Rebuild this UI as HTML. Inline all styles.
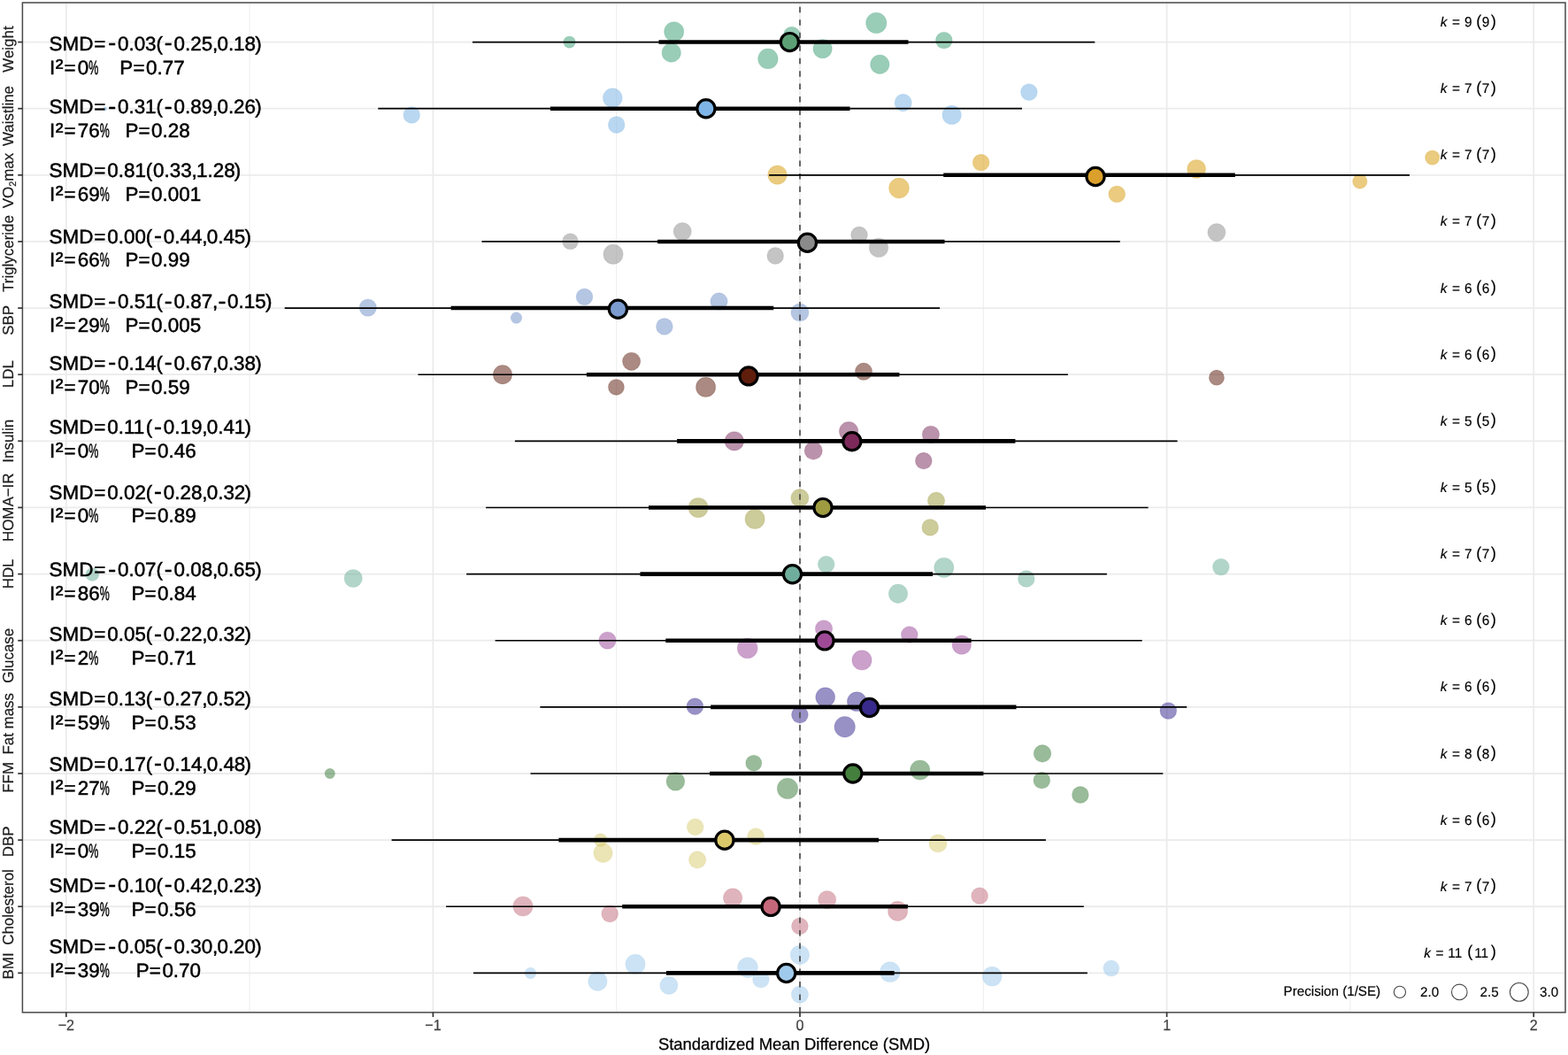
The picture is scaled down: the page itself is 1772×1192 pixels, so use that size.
<!DOCTYPE html>
<html lang="en"><head><meta charset="utf-8"><title>Orchard plot: Standardized Mean Difference (SMD)</title>
<style>
html,body{margin:0;padding:0;background:#fff;}
body{width:1772px;height:1192px;overflow:hidden;}
svg{display:block;}
text{font-family:"Liberation Sans",sans-serif;text-rendering:geometricPrecision;}
.ann{font-size:22.2px;fill:#000;stroke:#000;stroke-width:0.5;}
.ax{font-size:17.0px;fill:#3d3d3d;stroke:#3d3d3d;stroke-width:0.25;text-anchor:middle;}
.yl{font-size:17.2px;fill:#1a1a1a;stroke:#1a1a1a;stroke-width:0.2;text-anchor:middle;}
.k{font-size:15.6px;fill:#000;stroke:#000;stroke-width:0.15;}
.lg{font-size:15.4px;fill:#000;stroke:#000;stroke-width:0.15;}
.ttl{font-size:18.8px;fill:#000;stroke:#000;stroke-width:0.25;text-anchor:middle;}
</style></head><body>
<svg width="1772" height="1192" viewBox="0 0 1772 1192">
<rect x="0" y="0" width="1772" height="1192" fill="#ffffff"/>
<g id="grid" fill="none">
<line x1="282.1" y1="3.0" x2="282.1" y2="1143.9" stroke="#ebebeb" stroke-width="0.9"/>
<line x1="696.7" y1="3.0" x2="696.7" y2="1143.9" stroke="#ebebeb" stroke-width="0.9"/>
<line x1="1111.3" y1="3.0" x2="1111.3" y2="1143.9" stroke="#ebebeb" stroke-width="0.9"/>
<line x1="1525.9" y1="3.0" x2="1525.9" y2="1143.9" stroke="#ebebeb" stroke-width="0.9"/>
<line x1="74.8" y1="3.0" x2="74.8" y2="1143.9" stroke="#ebebeb" stroke-width="1.8"/>
<line x1="489.4" y1="3.0" x2="489.4" y2="1143.9" stroke="#ebebeb" stroke-width="1.8"/>
<line x1="904" y1="3.0" x2="904" y2="1143.9" stroke="#ebebeb" stroke-width="1.8"/>
<line x1="1318.6" y1="3.0" x2="1318.6" y2="1143.9" stroke="#ebebeb" stroke-width="1.8"/>
<line x1="1733.2" y1="3.0" x2="1733.2" y2="1143.9" stroke="#ebebeb" stroke-width="1.8"/>
<line x1="25.4" y1="47.55" x2="1769.0" y2="47.55" stroke="#ebebeb" stroke-width="1.8"/>
<line x1="25.4" y1="122.68" x2="1769.0" y2="122.68" stroke="#ebebeb" stroke-width="1.8"/>
<line x1="25.4" y1="197.81" x2="1769.0" y2="197.81" stroke="#ebebeb" stroke-width="1.8"/>
<line x1="25.4" y1="272.94" x2="1769.0" y2="272.94" stroke="#ebebeb" stroke-width="1.8"/>
<line x1="25.4" y1="348.07" x2="1769.0" y2="348.07" stroke="#ebebeb" stroke-width="1.8"/>
<line x1="25.4" y1="423.2" x2="1769.0" y2="423.2" stroke="#ebebeb" stroke-width="1.8"/>
<line x1="25.4" y1="498.33" x2="1769.0" y2="498.33" stroke="#ebebeb" stroke-width="1.8"/>
<line x1="25.4" y1="573.46" x2="1769.0" y2="573.46" stroke="#ebebeb" stroke-width="1.8"/>
<line x1="25.4" y1="648.59" x2="1769.0" y2="648.59" stroke="#ebebeb" stroke-width="1.8"/>
<line x1="25.4" y1="723.72" x2="1769.0" y2="723.72" stroke="#ebebeb" stroke-width="1.8"/>
<line x1="25.4" y1="798.85" x2="1769.0" y2="798.85" stroke="#ebebeb" stroke-width="1.8"/>
<line x1="25.4" y1="873.98" x2="1769.0" y2="873.98" stroke="#ebebeb" stroke-width="1.8"/>
<line x1="25.4" y1="949.11" x2="1769.0" y2="949.11" stroke="#ebebeb" stroke-width="1.8"/>
<line x1="25.4" y1="1024.24" x2="1769.0" y2="1024.24" stroke="#ebebeb" stroke-width="1.8"/>
<line x1="25.4" y1="1099.37" x2="1769.0" y2="1099.37" stroke="#ebebeb" stroke-width="1.8"/>
</g>
<g id="points" stroke="none">
<g fill="#359b6f" fill-opacity="0.5" stroke="#359b6f" stroke-opacity="0.14" stroke-width="1.2">
<circle cx="643.5" cy="47.6" r="6.7"/>
<circle cx="761.7" cy="35.8" r="11.1"/>
<circle cx="758.7" cy="59.5" r="10.7"/>
<circle cx="894.8" cy="39.6" r="9.4"/>
<circle cx="867.9" cy="66.4" r="11.3"/>
<circle cx="929.6" cy="55.1" r="10.7"/>
<circle cx="990.3" cy="25.9" r="11.7"/>
<circle cx="994.3" cy="72.7" r="10.7"/>
<circle cx="1066.8" cy="45.6" r="9.4"/>
</g>
<g fill="#73afe3" fill-opacity="0.5" stroke="#73afe3" stroke-opacity="0.14" stroke-width="1.2">
<circle cx="118.8" cy="122.8" r="2.1"/>
<circle cx="465.2" cy="129.9" r="9.4"/>
<circle cx="692.3" cy="110.6" r="10.9"/>
<circle cx="696.7" cy="141" r="9.4"/>
<circle cx="1020.7" cy="116" r="9.7"/>
<circle cx="1075.6" cy="129.9" r="10.7"/>
<circle cx="1162.9" cy="104.1" r="9.4"/>
</g>
<g fill="#d59700" fill-opacity="0.5" stroke="#d59700" stroke-opacity="0.14" stroke-width="1.2">
<circle cx="878.5" cy="197.6" r="10.7"/>
<circle cx="1016" cy="212.5" r="11.4"/>
<circle cx="1108.6" cy="183.7" r="9.4"/>
<circle cx="1352.1" cy="190.9" r="10.5"/>
<circle cx="1262.2" cy="219.4" r="9.4"/>
<circle cx="1536.8" cy="205" r="8.2"/>
<circle cx="1618.7" cy="178.1" r="8.2"/>
</g>
<g fill="#898989" fill-opacity="0.5" stroke="#898989" stroke-opacity="0.14" stroke-width="1.2">
<circle cx="644.5" cy="272.8" r="9"/>
<circle cx="771.2" cy="261.6" r="10.1"/>
<circle cx="693" cy="287.3" r="11.1"/>
<circle cx="876.2" cy="289" r="9.4"/>
<circle cx="971" cy="265.5" r="9.4"/>
<circle cx="993" cy="279.9" r="10.7"/>
<circle cx="1374.9" cy="262.6" r="10.1"/>
</g>
<g fill="#6b8dc7" fill-opacity="0.5" stroke="#6b8dc7" stroke-opacity="0.14" stroke-width="1.2">
<circle cx="415.8" cy="347.6" r="9.7"/>
<circle cx="583.5" cy="359.1" r="6.3"/>
<circle cx="660.5" cy="335.4" r="9.4"/>
<circle cx="812.5" cy="340.5" r="9.7"/>
<circle cx="750.9" cy="368.9" r="9.4"/>
<circle cx="903.9" cy="353" r="10.1"/>
</g>
<g fill="#551505" fill-opacity="0.5" stroke="#551505" stroke-opacity="0.14" stroke-width="1.2">
<circle cx="568" cy="423.2" r="10.7"/>
<circle cx="713.6" cy="408.3" r="10.1"/>
<circle cx="696.4" cy="437.4" r="9"/>
<circle cx="797.6" cy="437.4" r="11.1"/>
<circle cx="976" cy="419.8" r="9.7"/>
<circle cx="1374.9" cy="426.7" r="8.6"/>
</g>
<g fill="#752557" fill-opacity="0.5" stroke="#752557" stroke-opacity="0.14" stroke-width="1.2">
<circle cx="829.8" cy="498.4" r="10.7"/>
<circle cx="959.1" cy="487.2" r="10.7"/>
<circle cx="919.2" cy="509.2" r="10.1"/>
<circle cx="1051.9" cy="490.9" r="9.7"/>
<circle cx="1043.8" cy="520.7" r="9.4"/>
</g>
<g fill="#999735" fill-opacity="0.5" stroke="#999735" stroke-opacity="0.14" stroke-width="1.2">
<circle cx="789.1" cy="573.6" r="11.1"/>
<circle cx="903.9" cy="562.7" r="10.1"/>
<circle cx="853.1" cy="586.4" r="11.1"/>
<circle cx="1058" cy="565.8" r="9.7"/>
<circle cx="1051.2" cy="595.9" r="9.4"/>
</g>
<g fill="#65ab95" fill-opacity="0.5" stroke="#65ab95" stroke-opacity="0.14" stroke-width="1.2">
<circle cx="104.3" cy="649.1" r="7.4"/>
<circle cx="399.2" cy="653.5" r="10.1"/>
<circle cx="933.7" cy="637.6" r="9.4"/>
<circle cx="1066.8" cy="641.3" r="11.1"/>
<circle cx="1015" cy="670.7" r="10.7"/>
<circle cx="1159.8" cy="653.9" r="9.4"/>
<circle cx="1379.8" cy="640.6" r="9.4"/>
</g>
<g fill="#974397" fill-opacity="0.5" stroke="#974397" stroke-opacity="0.14" stroke-width="1.2">
<circle cx="686.5" cy="723.6" r="9.7"/>
<circle cx="931" cy="710.4" r="9.7"/>
<circle cx="844.7" cy="732.4" r="11.4"/>
<circle cx="1027.8" cy="717.1" r="9.4"/>
<circle cx="974" cy="745.9" r="11.1"/>
<circle cx="1086.8" cy="728.6" r="10.7"/>
</g>
<g fill="#31238b" fill-opacity="0.5" stroke="#31238b" stroke-opacity="0.14" stroke-width="1.2">
<circle cx="785.4" cy="798.2" r="9.4"/>
<circle cx="932.7" cy="787.7" r="10.9"/>
<circle cx="968.3" cy="792.7" r="10.9"/>
<circle cx="903.9" cy="807.6" r="9.4"/>
<circle cx="954.7" cy="821.2" r="11.7"/>
<circle cx="1320.3" cy="803.1" r="9.4"/>
</g>
<g fill="#337733" fill-opacity="0.5" stroke="#337733" stroke-opacity="0.14" stroke-width="1.2">
<circle cx="372.8" cy="874" r="5.7"/>
<circle cx="851.8" cy="862.2" r="9"/>
<circle cx="763.4" cy="882.8" r="10.4"/>
<circle cx="890" cy="890.9" r="11.7"/>
<circle cx="1039.7" cy="870" r="11.1"/>
<circle cx="1178" cy="851.4" r="9.8"/>
<circle cx="1177.3" cy="881.7" r="9.4"/>
<circle cx="1220.9" cy="898" r="9.4"/>
</g>
<g fill="#d7c96b" fill-opacity="0.5" stroke="#d7c96b" stroke-opacity="0.14" stroke-width="1.2">
<circle cx="678.7" cy="949.2" r="7.4"/>
<circle cx="681.5" cy="963.7" r="10.7"/>
<circle cx="785.7" cy="934.3" r="9.4"/>
<circle cx="854.1" cy="945.1" r="9.4"/>
<circle cx="788.1" cy="971.5" r="9.7"/>
<circle cx="1060" cy="952.9" r="10.1"/>
</g>
<g fill="#c16979" fill-opacity="0.5" stroke="#c16979" stroke-opacity="0.14" stroke-width="1.2">
<circle cx="591" cy="1024" r="11.1"/>
<circle cx="689.2" cy="1032.5" r="9.4"/>
<circle cx="828.1" cy="1014.5" r="10.7"/>
<circle cx="934.7" cy="1016.6" r="10.1"/>
<circle cx="1014.6" cy="1029.4" r="11.1"/>
<circle cx="903.9" cy="1046.4" r="9.4"/>
<circle cx="1107.1" cy="1012.2" r="9.4"/>
</g>
<g fill="#99c7eb" fill-opacity="0.5" stroke="#99c7eb" stroke-opacity="0.14" stroke-width="1.2">
<circle cx="599.5" cy="1099.5" r="6.3"/>
<circle cx="718" cy="1089.4" r="11.1"/>
<circle cx="675.4" cy="1108.7" r="10.7"/>
<circle cx="755.9" cy="1113.4" r="10.1"/>
<circle cx="845" cy="1093.1" r="11.4"/>
<circle cx="859.9" cy="1106.6" r="9.4"/>
<circle cx="903.9" cy="1078.9" r="10.7"/>
<circle cx="903.9" cy="1123.6" r="9.7"/>
<circle cx="1005.8" cy="1098.2" r="11.4"/>
<circle cx="1121.2" cy="1103.2" r="10.9"/>
<circle cx="1255.8" cy="1094.1" r="9"/>
</g>
</g>
<line x1="904" y1="1144.4" x2="904" y2="3.0" stroke="#4f4f4f" stroke-opacity="0.95" stroke-width="1.8" stroke-dasharray="6.5 7.99"/>
<g id="ranges" stroke="#000" fill="none">
<line x1="744.5" y1="47.55" x2="1026.5" y2="47.55" stroke-width="4.6"/>
<line x1="533.9" y1="47.55" x2="1237.3" y2="47.55" stroke-width="1.65"/>
<line x1="621.9" y1="122.68" x2="960.5" y2="122.68" stroke-width="4.6"/>
<line x1="427.3" y1="122.68" x2="1155" y2="122.68" stroke-width="1.65"/>
<line x1="1066.2" y1="197.81" x2="1395.8" y2="197.81" stroke-width="4.6"/>
<line x1="869.1" y1="197.81" x2="1593" y2="197.81" stroke-width="1.65"/>
<line x1="743.1" y1="272.94" x2="1067.5" y2="272.94" stroke-width="4.6"/>
<line x1="544.5" y1="272.94" x2="1265.7" y2="272.94" stroke-width="1.65"/>
<line x1="509.6" y1="348.07" x2="874.2" y2="348.07" stroke-width="4.6"/>
<line x1="321.7" y1="348.07" x2="1062.1" y2="348.07" stroke-width="1.65"/>
<line x1="662.9" y1="423.2" x2="1016.4" y2="423.2" stroke-width="4.6"/>
<line x1="472.4" y1="423.2" x2="1206.9" y2="423.2" stroke-width="1.65"/>
<line x1="765.1" y1="498.33" x2="1147.4" y2="498.33" stroke-width="4.6"/>
<line x1="581.9" y1="498.33" x2="1330.6" y2="498.33" stroke-width="1.65"/>
<line x1="733" y1="573.46" x2="1114" y2="573.46" stroke-width="4.6"/>
<line x1="549.1" y1="573.46" x2="1297.6" y2="573.46" stroke-width="1.65"/>
<line x1="723.5" y1="648.59" x2="1054" y2="648.59" stroke-width="4.6"/>
<line x1="527.1" y1="648.59" x2="1250.9" y2="648.59" stroke-width="1.65"/>
<line x1="752.3" y1="723.72" x2="1097.6" y2="723.72" stroke-width="4.6"/>
<line x1="559.6" y1="723.72" x2="1290.7" y2="723.72" stroke-width="1.65"/>
<line x1="803.1" y1="798.85" x2="1148.5" y2="798.85" stroke-width="4.6"/>
<line x1="610.4" y1="798.85" x2="1341.2" y2="798.85" stroke-width="1.65"/>
<line x1="802" y1="873.98" x2="1111.4" y2="873.98" stroke-width="4.6"/>
<line x1="599.5" y1="873.98" x2="1314.3" y2="873.98" stroke-width="1.65"/>
<line x1="631.4" y1="949.11" x2="993" y2="949.11" stroke-width="4.6"/>
<line x1="442.6" y1="949.11" x2="1181.9" y2="949.11" stroke-width="1.65"/>
<line x1="703.2" y1="1024.24" x2="1025.9" y2="1024.24" stroke-width="4.6"/>
<line x1="504.1" y1="1024.24" x2="1224.8" y2="1024.24" stroke-width="1.65"/>
<line x1="752.9" y1="1099.37" x2="1010.6" y2="1099.37" stroke-width="4.6"/>
<line x1="534.9" y1="1099.37" x2="1228.9" y2="1099.37" stroke-width="1.65"/>
</g>
<g id="means" stroke="#000" stroke-width="3.2">
<circle cx="892.4" cy="47.6" r="10.1" fill="#5DA076"/>
<circle cx="797.9" cy="122.8" r="10.1" fill="#7FB5E6"/>
<circle cx="1238" cy="199.5" r="10.1" fill="#DBA02B"/>
<circle cx="912.4" cy="274.3" r="10.1" fill="#8A8A8A"/>
<circle cx="698.4" cy="349.3" r="10.1" fill="#7B9BCF"/>
<circle cx="846" cy="424.9" r="10.1" fill="#5F1D0C"/>
<circle cx="962.8" cy="498.7" r="10.1" fill="#7D2A5A"/>
<circle cx="930" cy="573.6" r="10.1" fill="#9E9B41"/>
<circle cx="895.5" cy="648.7" r="10.1" fill="#6FAE9C"/>
<circle cx="932" cy="723.9" r="10.1" fill="#9F4A97"/>
<circle cx="982.5" cy="799.5" r="10.1" fill="#372A8B"/>
<circle cx="963.8" cy="874" r="10.1" fill="#447F3E"/>
<circle cx="818.9" cy="949.2" r="10.1" fill="#DCC96B"/>
<circle cx="871.1" cy="1024.4" r="10.1" fill="#C5687A"/>
<circle cx="888.7" cy="1099.5" r="10.1" fill="#A0CAEB"/>
</g>
<rect x="25.4" y="3.0" width="1743.6" height="1140.9" fill="none" stroke="#484848" stroke-width="1.5"/>
<g id="ticks" stroke="#333333" stroke-width="1.7">
<line x1="74.8" y1="1143.9" x2="74.8" y2="1149.1"/>
<line x1="489.4" y1="1143.9" x2="489.4" y2="1149.1"/>
<line x1="904" y1="1143.9" x2="904" y2="1149.1"/>
<line x1="1318.6" y1="1143.9" x2="1318.6" y2="1149.1"/>
<line x1="1733.2" y1="1143.9" x2="1733.2" y2="1149.1"/>
<line x1="20.2" y1="47.55" x2="25.4" y2="47.55"/>
<line x1="20.2" y1="122.68" x2="25.4" y2="122.68"/>
<line x1="20.2" y1="197.81" x2="25.4" y2="197.81"/>
<line x1="20.2" y1="272.94" x2="25.4" y2="272.94"/>
<line x1="20.2" y1="348.07" x2="25.4" y2="348.07"/>
<line x1="20.2" y1="423.2" x2="25.4" y2="423.2"/>
<line x1="20.2" y1="498.33" x2="25.4" y2="498.33"/>
<line x1="20.2" y1="573.46" x2="25.4" y2="573.46"/>
<line x1="20.2" y1="648.59" x2="25.4" y2="648.59"/>
<line x1="20.2" y1="723.72" x2="25.4" y2="723.72"/>
<line x1="20.2" y1="798.85" x2="25.4" y2="798.85"/>
<line x1="20.2" y1="873.98" x2="25.4" y2="873.98"/>
<line x1="20.2" y1="949.11" x2="25.4" y2="949.11"/>
<line x1="20.2" y1="1024.24" x2="25.4" y2="1024.24"/>
<line x1="20.2" y1="1099.37" x2="25.4" y2="1099.37"/>
</g>
<g id="xaxis" class="ax">
<text transform="translate(74.8 1163.8) scale(0.945 1)">−2</text>
<text transform="translate(489.4 1163.8) scale(0.945 1)">−1</text>
<text transform="translate(904 1163.8) scale(0.945 1)">0</text>
<text transform="translate(1318.6 1163.8) scale(0.945 1)">1</text>
<text transform="translate(1733.2 1163.8) scale(0.945 1)">2</text>
</g>
<text class="ttl" transform="translate(897.5 1185.5) scale(0.982 1)">Standardized Mean Difference (SMD)</text>
<g id="yaxis">
<text class="yl" transform="translate(14.6 55.6) rotate(-90) scale(0.985 1)">Weight</text>
<text class="yl" transform="translate(14.6 131) rotate(-90) scale(0.985 1)">Waistline</text>
<text class="yl" transform="translate(14.6 204) rotate(-90) scale(0.985 1)">VO<tspan font-size="11" dy="3.4">2</tspan><tspan dy="-3.4">max</tspan></text>
<text class="yl" transform="translate(14.6 286.5) rotate(-90) scale(0.985 1)">Triglyceride</text>
<text class="yl" transform="translate(14.6 361.9) rotate(-90) scale(0.985 1)">SBP</text>
<text class="yl" transform="translate(14.6 422.7) rotate(-90) scale(0.985 1)">LDL</text>
<text class="yl" transform="translate(14.6 498.2) rotate(-90) scale(0.985 1)">Insulin</text>
<text class="yl" transform="translate(14.6 573.3) rotate(-90) scale(0.985 1)">HOMA−IR</text>
<text class="yl" transform="translate(14.6 648.4) rotate(-90) scale(0.985 1)">HDL</text>
<text class="yl" transform="translate(14.6 740.8) rotate(-90) scale(0.985 1)">Glucase</text>
<text class="yl" transform="translate(14.6 817.8) rotate(-90) scale(0.985 1)">Fat mass</text>
<text class="yl" transform="translate(14.6 878.4) rotate(-90) scale(0.985 1)">FFM</text>
<text class="yl" transform="translate(14.6 950.9) rotate(-90) scale(0.985 1)">DBP</text>
<text class="yl" transform="translate(14.6 1025) rotate(-90) scale(0.985 1)">Cholesterol</text>
<text class="yl" transform="translate(14.6 1091.4) rotate(-90) scale(0.985 1)">BMI</text>
</g>
<g id="annotations">
<text class="ann" transform="scale(1.01 1)"><tspan x="55.05" y="56.9">SMD</tspan><tspan x="105.25" y="56.9">=</tspan><tspan x="121.03" y="57.45" font-size="26.5">-</tspan><tspan x="131.63" y="56.9">0.03</tspan><tspan x="174.74" y="56.9">(</tspan><tspan x="183.94" y="57.45" font-size="26.5">-</tspan><tspan x="194.54" y="56.9">0.25</tspan><tspan x="237.54" y="56.9">,</tspan><tspan x="242.99" y="56.9">0.18</tspan><tspan x="285.4" y="56.9">)</tspan></text>
<text class="ann" transform="scale(1.01 1)"><tspan x="55.45" y="83.8">I</tspan><tspan x="62.08" y="85.4" font-size="26">²</tspan><tspan x="71.78" y="83.8">=</tspan><tspan x="86.83" y="83.8">0</tspan></text><text class="ann" transform="translate(100.37 83.8) scale(0.56 1.0)">%</text><text class="ann" transform="scale(1.01 1)"><tspan x="133.96" y="83.8">P</tspan><tspan x="148.96" y="83.8">=</tspan><tspan x="163.37" y="83.8">0.77</tspan></text>
<text class="ann" transform="scale(1.01 1)"><tspan x="55.05" y="128.3">SMD</tspan><tspan x="105.25" y="128.3">=</tspan><tspan x="121.03" y="128.85" font-size="26.5">-</tspan><tspan x="131.63" y="128.3">0.31</tspan><tspan x="174.74" y="128.3">(</tspan><tspan x="183.94" y="128.85" font-size="26.5">-</tspan><tspan x="194.54" y="128.3">0.89</tspan><tspan x="237.54" y="128.3">,</tspan><tspan x="242.99" y="128.3">0.26</tspan><tspan x="285.4" y="128.3">)</tspan></text>
<text class="ann" transform="scale(1.01 1)"><tspan x="55.45" y="155.4">I</tspan><tspan x="62.08" y="157" font-size="26">²</tspan><tspan x="71.78" y="155.4">=</tspan><tspan x="86.83" y="155.4">76</tspan></text><text class="ann" transform="translate(112.83 155.4) scale(0.56 1.0)">%</text><text class="ann" transform="scale(1.01 1)"><tspan x="140" y="155.4">P</tspan><tspan x="155" y="155.4">=</tspan><tspan x="169.41" y="155.4">0.28</tspan></text>
<text class="ann" transform="scale(1.01 1)"><tspan x="55.05" y="199.8">SMD</tspan><tspan x="105.25" y="199.8">=</tspan><tspan x="120.05" y="199.8">0.81</tspan><tspan x="163.15" y="199.8">(</tspan><tspan x="171.37" y="199.8">0.33</tspan><tspan x="214.37" y="199.8">,</tspan><tspan x="219.82" y="199.8">1.28</tspan><tspan x="262.23" y="199.8">)</tspan></text>
<text class="ann" transform="scale(1.01 1)"><tspan x="55.45" y="226.5">I</tspan><tspan x="62.08" y="228.1" font-size="26">²</tspan><tspan x="71.78" y="226.5">=</tspan><tspan x="86.83" y="226.5">69</tspan></text><text class="ann" transform="translate(112.83 226.5) scale(0.56 1.0)">%</text><text class="ann" transform="scale(1.01 1)"><tspan x="140" y="226.5">P</tspan><tspan x="155" y="226.5">=</tspan><tspan x="169.41" y="226.5">0.001</tspan></text>
<text class="ann" transform="scale(1.01 1)"><tspan x="55.05" y="274.6">SMD</tspan><tspan x="105.25" y="274.6">=</tspan><tspan x="120.05" y="274.6">0.00</tspan><tspan x="163.15" y="274.6">(</tspan><tspan x="172.35" y="275.15" font-size="26.5">-</tspan><tspan x="182.95" y="274.6">0.44</tspan><tspan x="225.96" y="274.6">,</tspan><tspan x="231.4" y="274.6">0.45</tspan><tspan x="273.81" y="274.6">)</tspan></text>
<text class="ann" transform="scale(1.01 1)"><tspan x="55.45" y="301">I</tspan><tspan x="62.08" y="302.6" font-size="26">²</tspan><tspan x="71.78" y="301">=</tspan><tspan x="86.83" y="301">66</tspan></text><text class="ann" transform="translate(112.83 301) scale(0.56 1.0)">%</text><text class="ann" transform="scale(1.01 1)"><tspan x="140" y="301">P</tspan><tspan x="155" y="301">=</tspan><tspan x="169.41" y="301">0.99</tspan></text>
<text class="ann" transform="scale(1.01 1)"><tspan x="55.05" y="348.1">SMD</tspan><tspan x="105.25" y="348.1">=</tspan><tspan x="121.03" y="348.65" font-size="26.5">-</tspan><tspan x="131.63" y="348.1">0.51</tspan><tspan x="174.74" y="348.1">(</tspan><tspan x="183.94" y="348.65" font-size="26.5">-</tspan><tspan x="194.54" y="348.1">0.87</tspan><tspan x="237.54" y="348.1">,</tspan><tspan x="243.97" y="348.65" font-size="26.5">-</tspan><tspan x="254.57" y="348.1">0.15</tspan><tspan x="296.98" y="348.1">)</tspan></text>
<text class="ann" transform="scale(1.01 1)"><tspan x="55.45" y="374.8">I</tspan><tspan x="62.08" y="376.4" font-size="26">²</tspan><tspan x="71.78" y="374.8">=</tspan><tspan x="86.83" y="374.8">29</tspan></text><text class="ann" transform="translate(112.83 374.8) scale(0.56 1.0)">%</text><text class="ann" transform="scale(1.01 1)"><tspan x="140" y="374.8">P</tspan><tspan x="155" y="374.8">=</tspan><tspan x="169.41" y="374.8">0.005</tspan></text>
<text class="ann" transform="scale(1.01 1)"><tspan x="55.05" y="417.6">SMD</tspan><tspan x="105.25" y="417.6">=</tspan><tspan x="121.03" y="418.15" font-size="26.5">-</tspan><tspan x="131.63" y="417.6">0.14</tspan><tspan x="174.74" y="417.6">(</tspan><tspan x="183.94" y="418.15" font-size="26.5">-</tspan><tspan x="194.54" y="417.6">0.67</tspan><tspan x="237.54" y="417.6">,</tspan><tspan x="242.99" y="417.6">0.38</tspan><tspan x="285.4" y="417.6">)</tspan></text>
<text class="ann" transform="scale(1.01 1)"><tspan x="55.45" y="444.7">I</tspan><tspan x="62.08" y="446.3" font-size="26">²</tspan><tspan x="71.78" y="444.7">=</tspan><tspan x="86.83" y="444.7">70</tspan></text><text class="ann" transform="translate(112.83 444.7) scale(0.56 1.0)">%</text><text class="ann" transform="scale(1.01 1)"><tspan x="140" y="444.7">P</tspan><tspan x="155" y="444.7">=</tspan><tspan x="169.41" y="444.7">0.59</tspan></text>
<text class="ann" transform="scale(1.01 1)"><tspan x="55.05" y="490.1">SMD</tspan><tspan x="105.25" y="490.1">=</tspan><tspan x="120.05" y="490.1">0.11</tspan><tspan x="163.15" y="490.1">(</tspan><tspan x="172.35" y="490.65" font-size="26.5">-</tspan><tspan x="182.95" y="490.1">0.19</tspan><tspan x="225.96" y="490.1">,</tspan><tspan x="231.4" y="490.1">0.41</tspan><tspan x="273.81" y="490.1">)</tspan></text>
<text class="ann" transform="scale(1.01 1)"><tspan x="55.45" y="516.8">I</tspan><tspan x="62.08" y="518.4" font-size="26">²</tspan><tspan x="71.78" y="516.8">=</tspan><tspan x="86.83" y="516.8">0</tspan></text><text class="ann" transform="translate(100.37 516.8) scale(0.56 1.0)">%</text><text class="ann" transform="scale(1.01 1)"><tspan x="146.93" y="516.8">P</tspan><tspan x="161.93" y="516.8">=</tspan><tspan x="176.34" y="516.8">0.46</tspan></text>
<text class="ann" transform="scale(1.01 1)"><tspan x="55.05" y="563.5">SMD</tspan><tspan x="105.25" y="563.5">=</tspan><tspan x="120.05" y="563.5">0.02</tspan><tspan x="163.15" y="563.5">(</tspan><tspan x="172.35" y="564.05" font-size="26.5">-</tspan><tspan x="182.95" y="563.5">0.28</tspan><tspan x="225.96" y="563.5">,</tspan><tspan x="231.4" y="563.5">0.32</tspan><tspan x="273.81" y="563.5">)</tspan></text>
<text class="ann" transform="scale(1.01 1)"><tspan x="55.45" y="590">I</tspan><tspan x="62.08" y="591.6" font-size="26">²</tspan><tspan x="71.78" y="590">=</tspan><tspan x="86.83" y="590">0</tspan></text><text class="ann" transform="translate(100.37 590) scale(0.56 1.0)">%</text><text class="ann" transform="scale(1.01 1)"><tspan x="146.93" y="590">P</tspan><tspan x="161.93" y="590">=</tspan><tspan x="176.34" y="590">0.89</tspan></text>
<text class="ann" transform="scale(1.01 1)"><tspan x="55.05" y="651.2">SMD</tspan><tspan x="105.25" y="651.2">=</tspan><tspan x="121.03" y="651.75" font-size="26.5">-</tspan><tspan x="131.63" y="651.2">0.07</tspan><tspan x="174.74" y="651.2">(</tspan><tspan x="183.94" y="651.75" font-size="26.5">-</tspan><tspan x="194.54" y="651.2">0.08</tspan><tspan x="237.54" y="651.2">,</tspan><tspan x="242.99" y="651.2">0.65</tspan><tspan x="285.4" y="651.2">)</tspan></text>
<text class="ann" transform="scale(1.01 1)"><tspan x="55.45" y="678">I</tspan><tspan x="62.08" y="679.6" font-size="26">²</tspan><tspan x="71.78" y="678">=</tspan><tspan x="86.83" y="678">86</tspan></text><text class="ann" transform="translate(112.83 678) scale(0.56 1.0)">%</text><text class="ann" transform="scale(1.01 1)"><tspan x="146.93" y="678">P</tspan><tspan x="161.93" y="678">=</tspan><tspan x="176.34" y="678">0.84</tspan></text>
<text class="ann" transform="scale(1.01 1)"><tspan x="55.05" y="724">SMD</tspan><tspan x="105.25" y="724">=</tspan><tspan x="120.05" y="724">0.05</tspan><tspan x="163.15" y="724">(</tspan><tspan x="172.35" y="724.55" font-size="26.5">-</tspan><tspan x="182.95" y="724">0.22</tspan><tspan x="225.96" y="724">,</tspan><tspan x="231.4" y="724">0.32</tspan><tspan x="273.81" y="724">)</tspan></text>
<text class="ann" transform="scale(1.01 1)"><tspan x="55.45" y="750.5">I</tspan><tspan x="62.08" y="752.1" font-size="26">²</tspan><tspan x="71.78" y="750.5">=</tspan><tspan x="86.83" y="750.5">2</tspan></text><text class="ann" transform="translate(100.37 750.5) scale(0.56 1.0)">%</text><text class="ann" transform="scale(1.01 1)"><tspan x="146.93" y="750.5">P</tspan><tspan x="161.93" y="750.5">=</tspan><tspan x="176.34" y="750.5">0.71</tspan></text>
<text class="ann" transform="scale(1.01 1)"><tspan x="55.05" y="796.9">SMD</tspan><tspan x="105.25" y="796.9">=</tspan><tspan x="120.05" y="796.9">0.13</tspan><tspan x="163.15" y="796.9">(</tspan><tspan x="172.35" y="797.45" font-size="26.5">-</tspan><tspan x="182.95" y="796.9">0.27</tspan><tspan x="225.96" y="796.9">,</tspan><tspan x="231.4" y="796.9">0.52</tspan><tspan x="273.81" y="796.9">)</tspan></text>
<text class="ann" transform="scale(1.01 1)"><tspan x="55.45" y="824.4">I</tspan><tspan x="62.08" y="826" font-size="26">²</tspan><tspan x="71.78" y="824.4">=</tspan><tspan x="86.83" y="824.4">59</tspan></text><text class="ann" transform="translate(112.83 824.4) scale(0.56 1.0)">%</text><text class="ann" transform="scale(1.01 1)"><tspan x="146.93" y="824.4">P</tspan><tspan x="161.93" y="824.4">=</tspan><tspan x="176.34" y="824.4">0.53</tspan></text>
<text class="ann" transform="scale(1.01 1)"><tspan x="55.05" y="870.8">SMD</tspan><tspan x="105.25" y="870.8">=</tspan><tspan x="120.05" y="870.8">0.17</tspan><tspan x="163.15" y="870.8">(</tspan><tspan x="172.35" y="871.35" font-size="26.5">-</tspan><tspan x="182.95" y="870.8">0.14</tspan><tspan x="225.96" y="870.8">,</tspan><tspan x="231.4" y="870.8">0.48</tspan><tspan x="273.81" y="870.8">)</tspan></text>
<text class="ann" transform="scale(1.01 1)"><tspan x="55.45" y="897.5">I</tspan><tspan x="62.08" y="899.1" font-size="26">²</tspan><tspan x="71.78" y="897.5">=</tspan><tspan x="86.83" y="897.5">27</tspan></text><text class="ann" transform="translate(112.83 897.5) scale(0.56 1.0)">%</text><text class="ann" transform="scale(1.01 1)"><tspan x="146.93" y="897.5">P</tspan><tspan x="161.93" y="897.5">=</tspan><tspan x="176.34" y="897.5">0.29</tspan></text>
<text class="ann" transform="scale(1.01 1)"><tspan x="55.05" y="942.2">SMD</tspan><tspan x="105.25" y="942.2">=</tspan><tspan x="121.03" y="942.75" font-size="26.5">-</tspan><tspan x="131.63" y="942.2">0.22</tspan><tspan x="174.74" y="942.2">(</tspan><tspan x="183.94" y="942.75" font-size="26.5">-</tspan><tspan x="194.54" y="942.2">0.51</tspan><tspan x="237.54" y="942.2">,</tspan><tspan x="242.99" y="942.2">0.08</tspan><tspan x="285.4" y="942.2">)</tspan></text>
<text class="ann" transform="scale(1.01 1)"><tspan x="55.45" y="969">I</tspan><tspan x="62.08" y="970.6" font-size="26">²</tspan><tspan x="71.78" y="969">=</tspan><tspan x="86.83" y="969">0</tspan></text><text class="ann" transform="translate(100.37 969) scale(0.56 1.0)">%</text><text class="ann" transform="scale(1.01 1)"><tspan x="146.93" y="969">P</tspan><tspan x="161.93" y="969">=</tspan><tspan x="176.34" y="969">0.15</tspan></text>
<text class="ann" transform="scale(1.01 1)"><tspan x="55.05" y="1007.9">SMD</tspan><tspan x="105.25" y="1007.9">=</tspan><tspan x="121.03" y="1008.45" font-size="26.5">-</tspan><tspan x="131.63" y="1007.9">0.10</tspan><tspan x="174.74" y="1007.9">(</tspan><tspan x="183.94" y="1008.45" font-size="26.5">-</tspan><tspan x="194.54" y="1007.9">0.42</tspan><tspan x="237.54" y="1007.9">,</tspan><tspan x="242.99" y="1007.9">0.23</tspan><tspan x="285.4" y="1007.9">)</tspan></text>
<text class="ann" transform="scale(1.01 1)"><tspan x="55.45" y="1035">I</tspan><tspan x="62.08" y="1036.6" font-size="26">²</tspan><tspan x="71.78" y="1035">=</tspan><tspan x="86.83" y="1035">39</tspan></text><text class="ann" transform="translate(112.83 1035) scale(0.56 1.0)">%</text><text class="ann" transform="scale(1.01 1)"><tspan x="146.93" y="1035">P</tspan><tspan x="161.93" y="1035">=</tspan><tspan x="176.34" y="1035">0.56</tspan></text>
<text class="ann" transform="scale(1.01 1)"><tspan x="55.05" y="1077.3">SMD</tspan><tspan x="105.25" y="1077.3">=</tspan><tspan x="121.03" y="1077.85" font-size="26.5">-</tspan><tspan x="131.63" y="1077.3">0.05</tspan><tspan x="174.74" y="1077.3">(</tspan><tspan x="183.94" y="1077.85" font-size="26.5">-</tspan><tspan x="194.54" y="1077.3">0.30</tspan><tspan x="237.54" y="1077.3">,</tspan><tspan x="242.99" y="1077.3">0.20</tspan><tspan x="285.4" y="1077.3">)</tspan></text>
<text class="ann" transform="scale(1.01 1)"><tspan x="55.45" y="1104.1">I</tspan><tspan x="62.08" y="1105.7" font-size="26">²</tspan><tspan x="71.78" y="1104.1">=</tspan><tspan x="86.83" y="1104.1">39</tspan></text><text class="ann" transform="translate(112.83 1104.1) scale(0.56 1.0)">%</text><text class="ann" transform="scale(1.01 1)"><tspan x="152.18" y="1104.1">P</tspan><tspan x="167.18" y="1104.1">=</tspan><tspan x="181.58" y="1104.1">0.70</tspan></text>
</g>
<g id="klabels">
<text class="k" transform="scale(0.985 1)"><tspan x="1652.55" y="30.1" font-style="italic">k</tspan><tspan x="1666.05" y="30.1">=</tspan><tspan x="1680.11" y="30.1">9</tspan><tspan x="1693.76" y="29.5" font-size="18.6">(</tspan><tspan x="1700.26" y="30.1">9</tspan><tspan x="1710.36" y="29.5" font-size="18.6">)</tspan></text>
<text class="k" transform="scale(0.985 1)"><tspan x="1652.55" y="105.23" font-style="italic">k</tspan><tspan x="1666.05" y="105.23">=</tspan><tspan x="1680.11" y="105.23">7</tspan><tspan x="1693.76" y="104.63" font-size="18.6">(</tspan><tspan x="1700.26" y="105.23">7</tspan><tspan x="1710.36" y="104.63" font-size="18.6">)</tspan></text>
<text class="k" transform="scale(0.985 1)"><tspan x="1652.55" y="180.36" font-style="italic">k</tspan><tspan x="1666.05" y="180.36">=</tspan><tspan x="1680.11" y="180.36">7</tspan><tspan x="1693.76" y="179.76" font-size="18.6">(</tspan><tspan x="1700.26" y="180.36">7</tspan><tspan x="1710.36" y="179.76" font-size="18.6">)</tspan></text>
<text class="k" transform="scale(0.985 1)"><tspan x="1652.55" y="255.49" font-style="italic">k</tspan><tspan x="1666.05" y="255.49">=</tspan><tspan x="1680.11" y="255.49">7</tspan><tspan x="1693.76" y="254.89" font-size="18.6">(</tspan><tspan x="1700.26" y="255.49">7</tspan><tspan x="1710.36" y="254.89" font-size="18.6">)</tspan></text>
<text class="k" transform="scale(0.985 1)"><tspan x="1652.55" y="330.62" font-style="italic">k</tspan><tspan x="1666.05" y="330.62">=</tspan><tspan x="1680.11" y="330.62">6</tspan><tspan x="1693.76" y="330.02" font-size="18.6">(</tspan><tspan x="1700.26" y="330.62">6</tspan><tspan x="1710.36" y="330.02" font-size="18.6">)</tspan></text>
<text class="k" transform="scale(0.985 1)"><tspan x="1652.55" y="405.75" font-style="italic">k</tspan><tspan x="1666.05" y="405.75">=</tspan><tspan x="1680.11" y="405.75">6</tspan><tspan x="1693.76" y="405.15" font-size="18.6">(</tspan><tspan x="1700.26" y="405.75">6</tspan><tspan x="1710.36" y="405.15" font-size="18.6">)</tspan></text>
<text class="k" transform="scale(0.985 1)"><tspan x="1652.55" y="480.88" font-style="italic">k</tspan><tspan x="1666.05" y="480.88">=</tspan><tspan x="1680.11" y="480.88">5</tspan><tspan x="1693.76" y="480.28" font-size="18.6">(</tspan><tspan x="1700.26" y="480.88">5</tspan><tspan x="1710.36" y="480.28" font-size="18.6">)</tspan></text>
<text class="k" transform="scale(0.985 1)"><tspan x="1652.55" y="556.01" font-style="italic">k</tspan><tspan x="1666.05" y="556.01">=</tspan><tspan x="1680.11" y="556.01">5</tspan><tspan x="1693.76" y="555.41" font-size="18.6">(</tspan><tspan x="1700.26" y="556.01">5</tspan><tspan x="1710.36" y="555.41" font-size="18.6">)</tspan></text>
<text class="k" transform="scale(0.985 1)"><tspan x="1652.55" y="631.14" font-style="italic">k</tspan><tspan x="1666.05" y="631.14">=</tspan><tspan x="1680.11" y="631.14">7</tspan><tspan x="1693.76" y="630.54" font-size="18.6">(</tspan><tspan x="1700.26" y="631.14">7</tspan><tspan x="1710.36" y="630.54" font-size="18.6">)</tspan></text>
<text class="k" transform="scale(0.985 1)"><tspan x="1652.55" y="706.27" font-style="italic">k</tspan><tspan x="1666.05" y="706.27">=</tspan><tspan x="1680.11" y="706.27">6</tspan><tspan x="1693.76" y="705.67" font-size="18.6">(</tspan><tspan x="1700.26" y="706.27">6</tspan><tspan x="1710.36" y="705.67" font-size="18.6">)</tspan></text>
<text class="k" transform="scale(0.985 1)"><tspan x="1652.55" y="781.4" font-style="italic">k</tspan><tspan x="1666.05" y="781.4">=</tspan><tspan x="1680.11" y="781.4">6</tspan><tspan x="1693.76" y="780.8" font-size="18.6">(</tspan><tspan x="1700.26" y="781.4">6</tspan><tspan x="1710.36" y="780.8" font-size="18.6">)</tspan></text>
<text class="k" transform="scale(0.985 1)"><tspan x="1652.55" y="856.53" font-style="italic">k</tspan><tspan x="1666.05" y="856.53">=</tspan><tspan x="1680.11" y="856.53">8</tspan><tspan x="1693.76" y="855.93" font-size="18.6">(</tspan><tspan x="1700.26" y="856.53">8</tspan><tspan x="1710.36" y="855.93" font-size="18.6">)</tspan></text>
<text class="k" transform="scale(0.985 1)"><tspan x="1652.55" y="931.66" font-style="italic">k</tspan><tspan x="1666.05" y="931.66">=</tspan><tspan x="1680.11" y="931.66">6</tspan><tspan x="1693.76" y="931.06" font-size="18.6">(</tspan><tspan x="1700.26" y="931.66">6</tspan><tspan x="1710.36" y="931.06" font-size="18.6">)</tspan></text>
<text class="k" transform="scale(0.985 1)"><tspan x="1652.55" y="1006.79" font-style="italic">k</tspan><tspan x="1666.05" y="1006.79">=</tspan><tspan x="1680.11" y="1006.79">7</tspan><tspan x="1693.76" y="1006.19" font-size="18.6">(</tspan><tspan x="1700.26" y="1006.79">7</tspan><tspan x="1710.36" y="1006.19" font-size="18.6">)</tspan></text>
<text class="k" transform="scale(0.985 1)"><tspan x="1633.68" y="1081.92" font-style="italic">k</tspan><tspan x="1647.18" y="1081.92">=</tspan><tspan x="1661.24" y="1081.92">11</tspan><tspan x="1683.57" y="1081.32" font-size="18.6">(</tspan><tspan x="1691.59" y="1081.92">11</tspan><tspan x="1710.36" y="1081.32" font-size="18.6">)</tspan></text>
</g>
<g id="legend">
<text class="lg" transform="translate(1450.6 1125.4) scale(0.985 1)">Precision (1/SE)</text>
<circle cx="1581.9" cy="1120.9" r="6.6" fill="none" stroke="#4a4a4a" stroke-width="1.1"/>
<text class="lg" transform="translate(1605.0 1126.2) scale(0.985 1)">2.0</text>
<circle cx="1649.3" cy="1120.9" r="8.8" fill="none" stroke="#4a4a4a" stroke-width="1.1"/>
<text class="lg" transform="translate(1672.5 1126.2) scale(0.985 1)">2.5</text>
<circle cx="1716.8" cy="1120.9" r="10.4" fill="none" stroke="#4a4a4a" stroke-width="1.1"/>
<text class="lg" transform="translate(1740.0 1126.2) scale(0.985 1)">3.0</text>
</g>
</svg>
</body></html>
